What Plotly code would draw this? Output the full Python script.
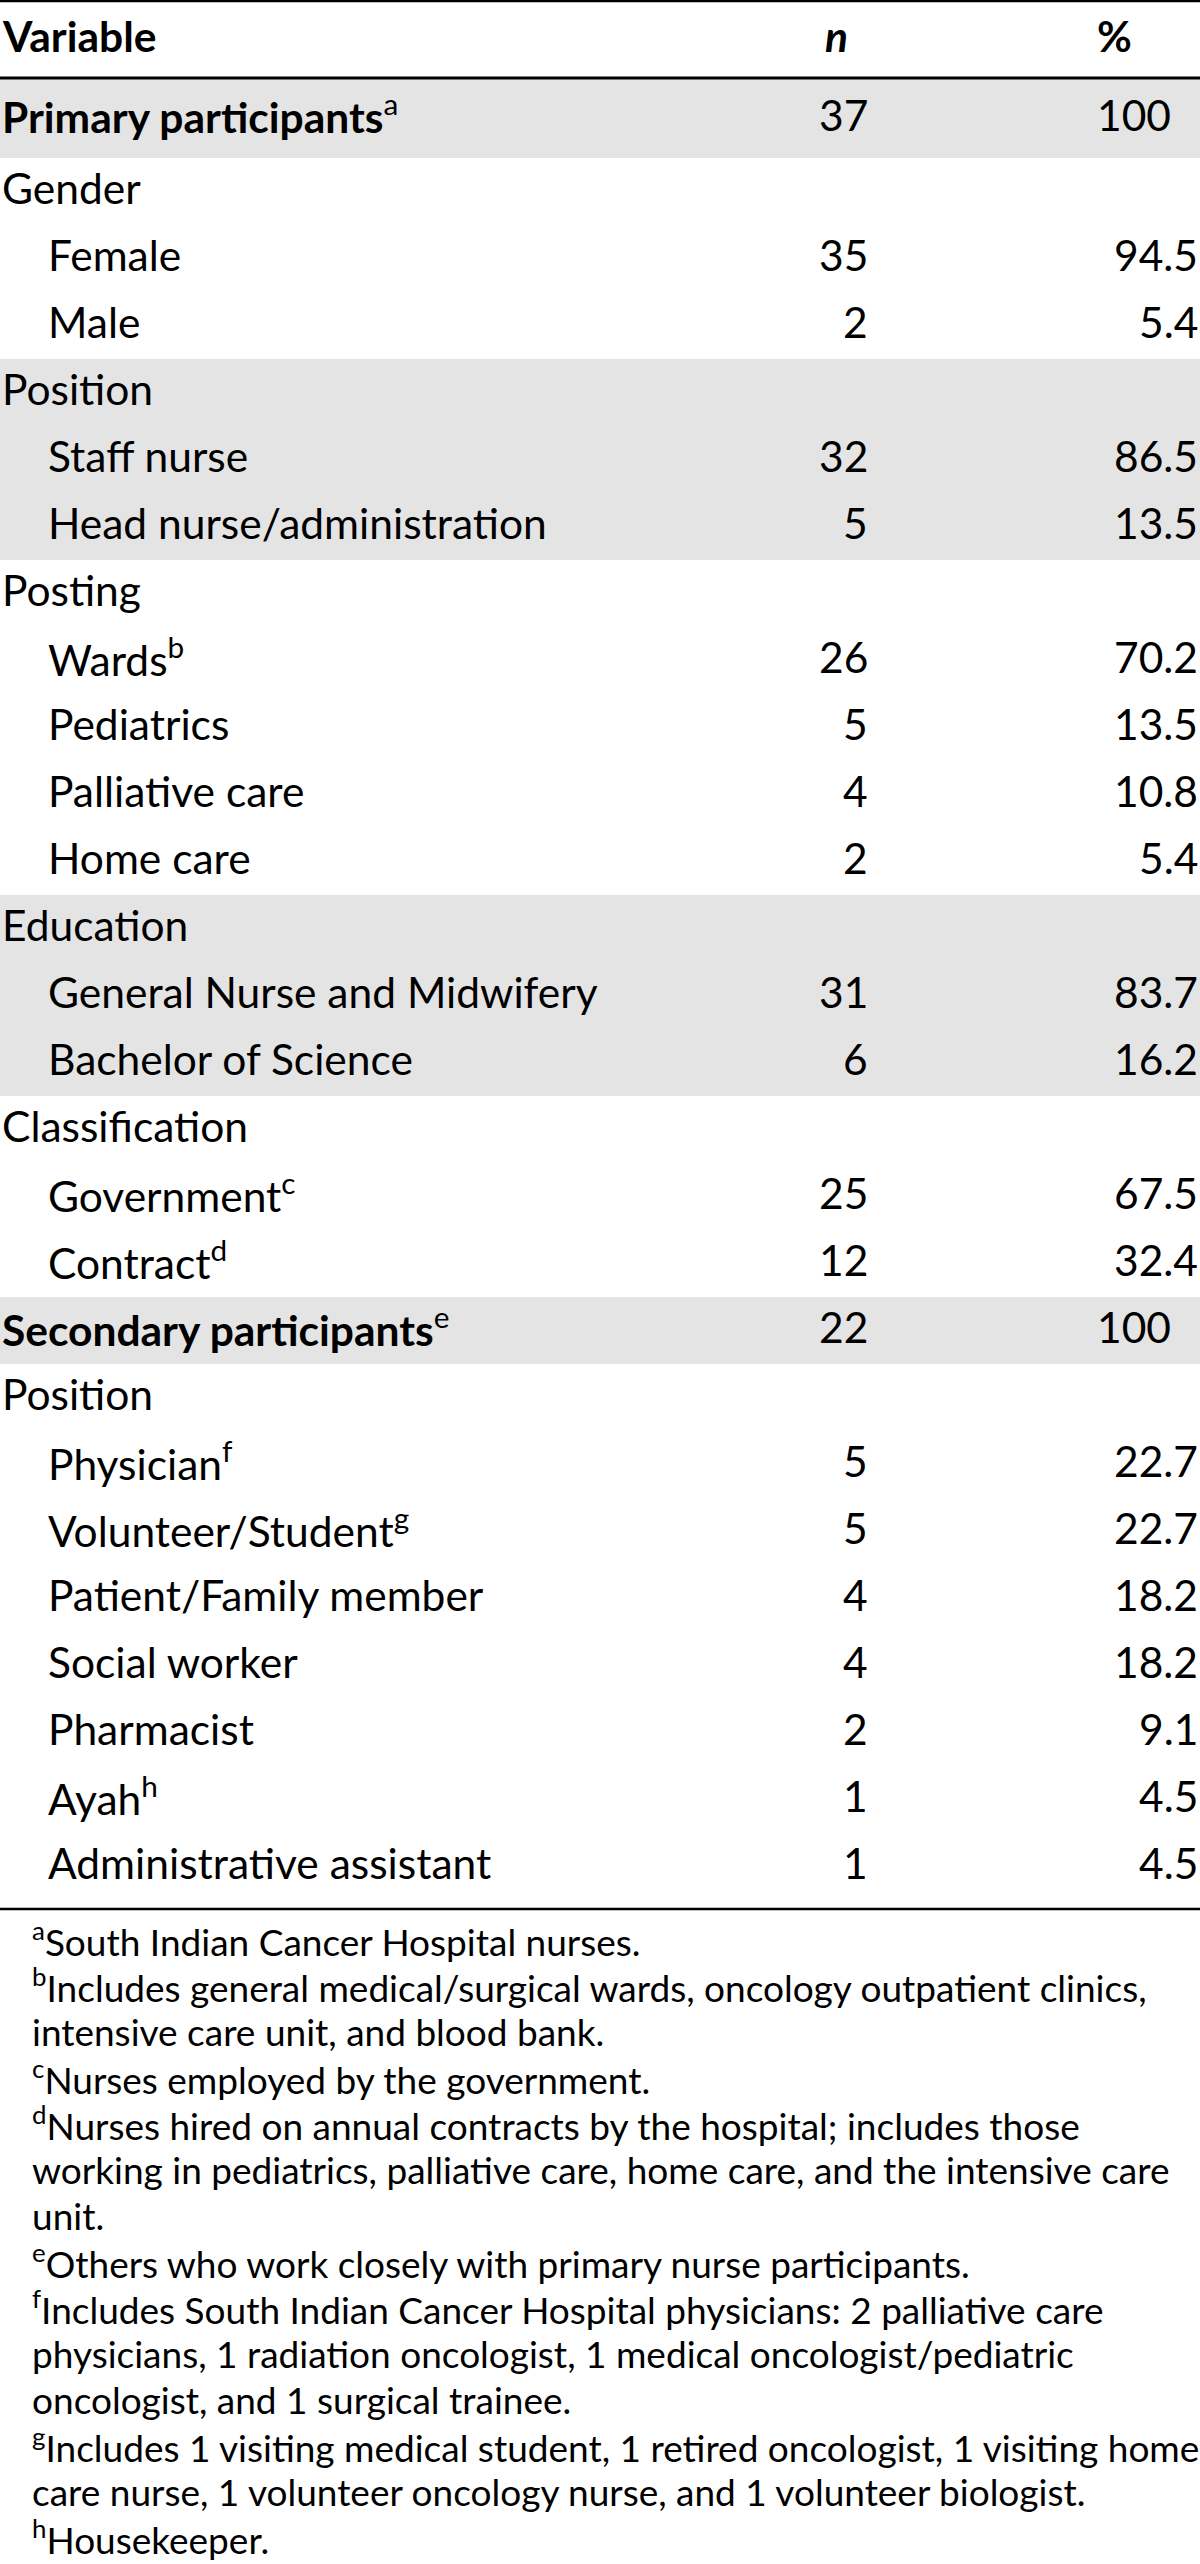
import plotly.graph_objects as go

# ---------------- data ----------------
labels = ["Primary participants", "Gender", "Female", "Male", "Position", "Staff nurse",
          "Head nurse/administration", "Posting", "Wards", "Pediatrics", "Palliative care",
          "Home care", "Education", "General Nurse and Midwifery", "Bachelor of Science",
          "Classification", "Government", "Contract", "Secondary participants", "Position",
          "Physician", "Volunteer/Student", "Patient/Family member", "Social worker",
          "Pharmacist", "Ayah", "Administrative assistant"]
n_vals = [37, None, 35, 2, None, 32, 5, None, 26, 5, 4, 2, None, 31, 6, None, 25, 12,
          22, None, 5, 5, 4, 4, 2, 1, 1]
pct_vals = ["100", "", "94.5", "5.4", "", "86.5", "13.5", "", "70.2", "13.5", "10.8", "5.4",
            "", "83.7", "16.2", "", "67.5", "32.4", "100", "", "22.7", "22.7", "18.2", "18.2",
            "9.1", "4.5", "4.5"]
levels = [0, 0, 1, 1, 0, 1, 1, 0, 1, 1, 1, 1, 0, 1, 1, 0, 1, 1, 0, 0, 1, 1, 1, 1, 1, 1, 1]
notes = ["a", "", "", "", "", "", "", "", "b", "", "", "", "", "", "", "", "c", "d", "e",
         "", "f", "g", "", "", "", "h", ""]
shaded = [1, 0, 0, 0, 1, 1, 1, 0, 0, 0, 0, 0, 1, 1, 1, 0, 0, 0, 1, 0, 0, 0, 0, 0, 0, 0, 0]
bold_rows = [1, 0, 0, 0, 0, 0, 0, 0, 0, 0, 0, 0, 0, 0, 0, 0, 0, 0, 1, 0, 0, 0, 0, 0, 0, 0, 0]
headers = ["Variable", "n", "%"]

footnote_marks = ["a", "b", "", "c", "d", "", "", "e", "f", "", "", "g", "", "h"]
footnote_lines = [
    "South Indian Cancer Hospital nurses.",
    "Includes general medical/surgical wards, oncology outpatient clinics,",
    "intensive care unit, and blood bank.",
    "Nurses employed by the government.",
    "Nurses hired on annual contracts by the hospital; includes those",
    "working in pediatrics, palliative care, home care, and the intensive care",
    "unit.",
    "Others who work closely with primary nurse participants.",
    "Includes South Indian Cancer Hospital physicians: 2 palliative care",
    "physicians, 1 radiation oncologist, 1 medical oncologist/pediatric",
    "oncologist, and 1 surgical trainee.",
    "Includes 1 visiting medical student, 1 retired oncologist, 1 visiting home",
    "care nurse, 1 volunteer oncology nurse, and 1 volunteer biologist.",
    "Housekeeper.",
]

# ---------------- layout constants ----------------
W, H = 1200, 2564
FONT = "Lato, 'Open Sans', sans-serif"
BODY = 42.5
FOOT = 37
GRAY = "#e4e4e4"
TXT = "#000000"

HEADER_BOTTOM = 78
ROW0_BOTTOM = 158
ROW_H = 67.0
TEXT_SHIFT = -4
X_L0, X_L1 = 0, 46
X_N_RIGHT = 870
X_N_HEAD = 836
X_PCT_RIGHT = 1200
X_PCT_LEFT = 1095


def row_span(i):
    if i == 0:
        return HEADER_BOTTOM, ROW0_BOTTOM
    top = ROW0_BOTTOM + (i - 1) * ROW_H
    return top, top + ROW_H


fig = go.Figure()
shapes = []
ann = []

# shaded bands
for i, s in enumerate(shaded):
    if s:
        t, b = row_span(i)
        shapes.append(dict(type="rect", xref="x", yref="y", x0=0, x1=W, y0=t, y1=b,
                           fillcolor=GRAY, line=dict(width=0), layer="below"))

last_bottom = row_span(len(labels) - 1)[1]
for y, w in [(1, 2.5), (HEADER_BOTTOM, 3), (last_bottom + 9, 2.5)]:
    shapes.append(dict(type="line", xref="x", yref="y", x0=0, x1=W, y0=y, y1=y,
                       line=dict(color="#000000", width=w)))


def add_text(x, y, text, size, anchor="left"):
    ann.append(dict(x=x, y=y, xref="x", yref="y", text=text, showarrow=False,
                    xanchor=anchor, yanchor="middle",
                    font=dict(family=FONT, size=size, color=TXT)))


# header
hy = HEADER_BOTTOM / 2 + TEXT_SHIFT
add_text(X_L0, hy, "<b>%s</b>" % headers[0], BODY)
add_text(X_N_HEAD, hy, "<b><i>%s</i></b>" % headers[1], BODY, "center")
add_text(X_PCT_LEFT, hy, "<b>%s</b>" % headers[2], BODY)

# body rows
for i, lab in enumerate(labels):
    t, b = row_span(i)
    yc = (t + b) / 2 + TEXT_SHIFT
    txt = "<b>%s</b>" % lab if bold_rows[i] else lab
    if notes[i]:
        txt += "<sup>%s</sup>" % notes[i]
    add_text(X_L1 if levels[i] else X_L0, yc, txt, BODY)
    if n_vals[i] is not None:
        add_text(X_N_RIGHT, yc, str(n_vals[i]), BODY, "right")
    if pct_vals[i]:
        if bold_rows[i]:
            add_text(X_PCT_LEFT, yc, pct_vals[i], BODY, "left")
        else:
            add_text(X_PCT_RIGHT, yc, pct_vals[i], BODY, "right")

# footnotes
FOOT_Y0 = last_bottom + 9 + 30
FOOT_STEP = 46.0
for k, (m, line) in enumerate(zip(footnote_marks, footnote_lines)):
    txt = ("<sup>%s</sup>" % m if m else "") + line
    add_text(30, FOOT_Y0 + k * FOOT_STEP, txt, FOOT)

fig.update_layout(
    width=W, height=H, margin=dict(l=0, r=0, t=0, b=0),
    paper_bgcolor="white", plot_bgcolor="white",
    xaxis=dict(range=[0, W], visible=False, fixedrange=True),
    yaxis=dict(range=[H, 0], visible=False, fixedrange=True),
    shapes=shapes, annotations=ann, showlegend=False,
)
fig.write_html("out.html", config={"displayModeBar": False},
               post_script="document.body.style.margin='0';document.body.style.overflow='hidden';")
